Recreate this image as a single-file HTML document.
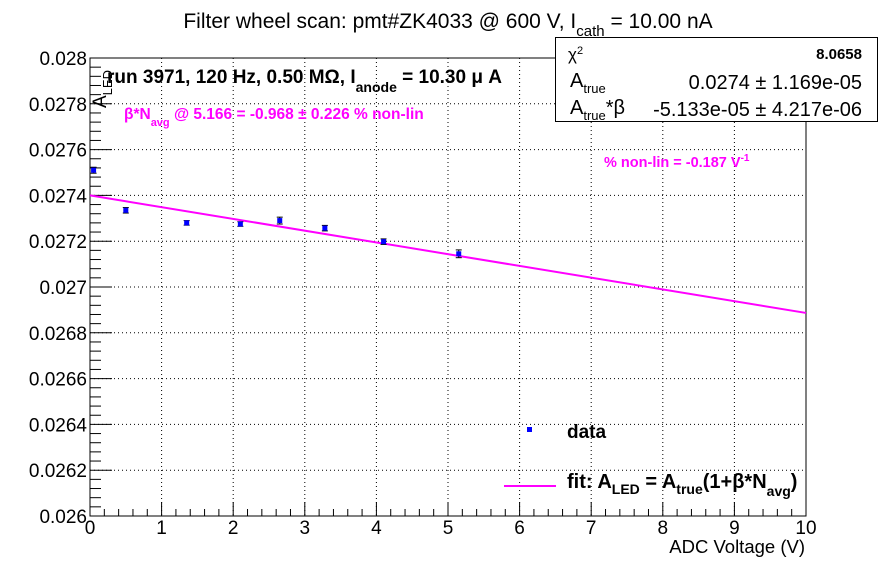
<!DOCTYPE html>
<html><head><meta charset="utf-8"><style>
body{margin:0;background:#fff;}
svg{display:block;font-family:"Liberation Sans",sans-serif;}
</style></head><body>
<svg id="chart" width="896" height="572" viewBox="0 0 896 572">
<rect width="896" height="572" fill="#fff"/>
<g id="grid"></g>
<g id="axes"></g>
<g id="marks"></g>
<text x="448" y="28" font-size="21" text-anchor="middle">Filter wheel scan: pmt#ZK4033 @   600 V, I<tspan font-size="15" dy="8">cath</tspan><tspan dy="-8"> = 10.00 nA</tspan></text>
<text transform="translate(106,108) rotate(-90)" font-size="19">A<tspan font-size="13" dy="6">LED</tspan></text>
<text x="805" y="553" font-size="18.5" text-anchor="end">ADC Voltage (V)</text>
<text x="107" y="83" font-size="19" font-weight="bold">run 3971, 120 Hz, 0.50 MΩ, I<tspan font-size="14" dy="9">anode</tspan><tspan dy="-9"> = 10.30 μ A</tspan></text>
<text x="124" y="119" font-size="15.5" font-weight="bold" fill="#ff00ff">β*N<tspan font-size="11" dy="7">avg</tspan><tspan dy="-7"> @ 5.166 = -0.968 ± 0.226 % non-lin</tspan></text>
<text x="604" y="167" font-size="14.5" font-weight="bold" fill="#ff00ff">% non-lin = -0.187 V<tspan font-size="10" dy="-6">-1</tspan></text>
<g>
<rect x="555.5" y="37.5" width="322" height="84" fill="#fff" stroke="#000" stroke-width="1"/>
<text x="568" y="60" font-size="17">χ<tspan font-size="11" dy="-6">2</tspan></text>
<text x="862" y="59" font-size="15" font-weight="bold" text-anchor="end">8.0658</text>
<text x="570" y="87" font-size="20">A<tspan font-size="13" dy="6">true</tspan></text>
<text x="862" y="89" font-size="20" text-anchor="end">0.0274 ± 1.169e-05</text>
<text x="570" y="114" font-size="20">A<tspan font-size="13" dy="6">true</tspan><tspan dy="-6">*β</tspan></text>
<text x="862" y="116" font-size="20" text-anchor="end">-5.133e-05 ± 4.217e-06</text>
</g>
<g>
<rect x="527" y="427" width="5" height="5" fill="#0000ff"/>
<text x="567" y="438" font-size="19" font-weight="bold">data</text>
<line x1="504" y1="486" x2="556" y2="486" stroke="#ff00ff" stroke-width="2"/>
<text x="567" y="488" font-size="20" font-weight="bold">fit: A<tspan font-size="14" dy="6">LED</tspan><tspan dy="-6"> = A</tspan><tspan font-size="14" dy="6">true</tspan><tspan dy="-6">(1+β*N</tspan><tspan font-size="14" dy="8">avg</tspan><tspan dy="-8">)</tspan></text>
</g>
</svg>
<script>
const xVals=[0.05,0.5,1.35,2.1,2.65,3.28,4.1,5.15];
const yVals=[0.02751,0.027335,0.02728,0.027275,0.02729,0.027257,0.027198,0.027145];
const yErrs=[0.000013,0.000012,0.000010,0.000010,0.000015,0.000012,0.000012,0.000017];
const fitA=0.0274;
const fitAB=-5.133e-5;
const xTicks=[0,1,2,3,4,5,6,7,8,9,10];
const yTicks=[0.026,0.0262,0.0264,0.0266,0.0268,0.027,0.0272,0.0274,0.0276,0.0278,0.028];
const yTickLabels=["0.026","0.0262","0.0264","0.0266","0.0268","0.027","0.0272","0.0274","0.0276","0.0278","0.028"];
const L=90,R=806,T=58,B=516,xmin=0,xmax=10,ymin=0.026,ymax=0.028;
const sx=v=>L+(v-xmin)/(xmax-xmin)*(R-L);
const sy=v=>B-(v-ymin)/(ymax-ymin)*(B-T);
const NS="http://www.w3.org/2000/svg";
function mk(tag,parent,attrs){const e=document.createElementNS(NS,tag);for(const k in attrs)e.setAttribute(k,attrs[k]);parent.appendChild(e);return e;}
const grid=document.getElementById('grid'),axes=document.getElementById('axes'),marks=document.getElementById('marks');
xTicks.forEach((t,i)=>{if(i>0&&i<xTicks.length-1){const g=mk('line',grid,{x1:sx(t),x2:sx(t),y1:T,y2:B,stroke:'#000','stroke-width':1,'stroke-dasharray':'1,3'});

}});
yTicks.forEach((t,i)=>{if(i>0&&i<yTicks.length-1){const g=mk('line',grid,{x1:L,x2:R,y1:sy(t),y2:sy(t),stroke:'#000','stroke-width':1,'stroke-dasharray':'1,3'});

}});
const fr=mk('rect',axes,{x:L,y:T,width:R-L,height:B-T,fill:'none',stroke:'#000','stroke-width':1});


for(let v=0;v<=10.001;v+=0.2){const big=Math.abs(v-Math.round(v))<1e-6;mk('line',axes,{x1:sx(v),x2:sx(v),y1:B,y2:B-(big?14:7),stroke:'#000'});}
xTicks.forEach(t=>{const tx=mk('text',axes,{x:sx(t),y:B+18,'font-size':19,'text-anchor':'middle'});tx.textContent=t;

});
for(let v=ymin;v<=ymax+1e-9;v+=0.00004){const big=Math.abs((v-ymin)/0.0002-Math.round((v-ymin)/0.0002))<1e-4;mk('line',axes,{x1:L,x2:L+(big?22:11),y1:sy(v),y2:sy(v),stroke:'#000'});}
yTicks.forEach((t,i)=>{const tx=mk('text',axes,{x:L-3,y:sy(t)+7,'font-size':19,'text-anchor':'end'});tx.textContent=yTickLabels[i];

});
const fl=mk('line',marks,{x1:sx(0),y1:sy(fitA),x2:sx(10),y2:sy(fitA+fitAB*10),stroke:'#ff00ff','stroke-width':2});


xVals.forEach((x,i)=>{const g=mk('g',marks,{});


const cx=sx(x),cy=sy(yVals[i]);
mk('line',g,{x1:cx,x2:cx,y1:sy(yVals[i]+yErrs[i]),y2:sy(yVals[i]-yErrs[i]),stroke:'#000'});
mk('line',g,{x1:cx-3,x2:cx+3,y1:sy(yVals[i]+yErrs[i]),y2:sy(yVals[i]+yErrs[i]),stroke:'#000'});
mk('line',g,{x1:cx-3,x2:cx+3,y1:sy(yVals[i]-yErrs[i]),y2:sy(yVals[i]-yErrs[i]),stroke:'#000'});
mk('rect',g,{x:cx-2.5,y:cy-2.5,width:5,height:5,fill:'#0000ff'});});
</script>
</body></html>
